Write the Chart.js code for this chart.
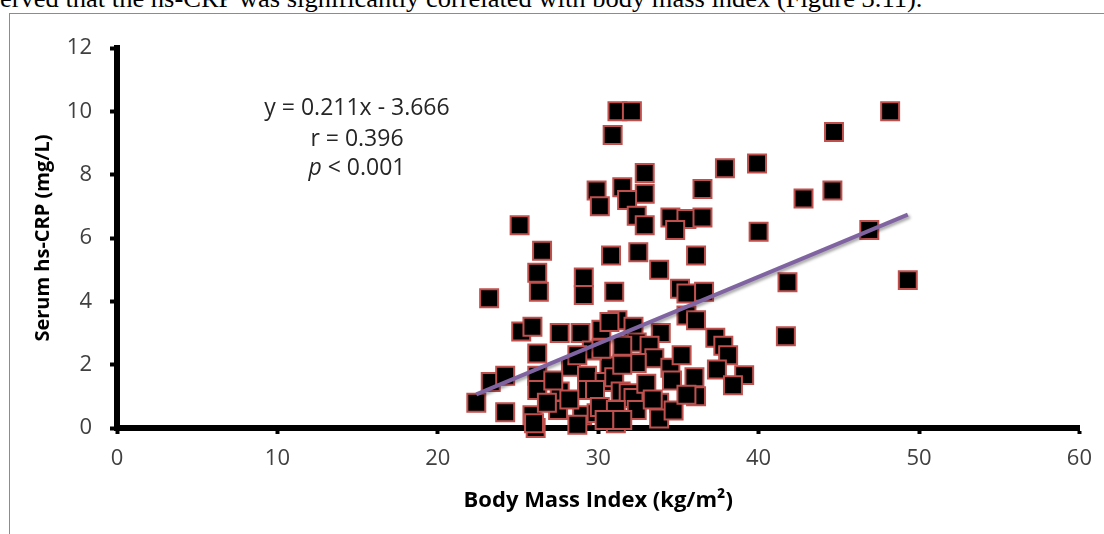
<!DOCTYPE html>
<html>
<head>
<meta charset="utf-8">
<script src="https://cdn.jsdelivr.net/npm/chart.js@4"></script>
<style>
	body { margin: 0; background: #fff; overflow: hidden; width: 1104px; height: 534px; position: relative; }
	#caption { position: absolute; left: 0; top: -14px; font-family: "Liberation Serif", serif; font-size: 25px; line-height: 25px; white-space: nowrap; color: #000; transform: scaleX(1.06); transform-origin: left top; }
	#frame { position: absolute; left: 9px; top: 13px; width: 1200px; height: 600px; border: 1px solid #8c8c8c; }
	#chart { position: absolute; left: 0; top: 0; }
</style>
</head>
<body>
<div id="caption">erved that the hs-CRP was significantly correlated with body mass index (Figure 3.11).</div>
<div id="frame"></div>
<canvas id="chart" width="1104" height="534"></canvas>
<script>
// BMI (kg/m2) and serum hs-CRP (mg/L)
const bmi = [
	31.2, 32.1, 30.9, 48.2, 44.7, 39.9, 37.9, 32.9, 29.9, 31.5,
	32.9, 30.1, 31.8, 36.5, 44.6, 42.8, 25.1, 32.4, 32.9, 34.5,
	35.5, 36.5, 34.8, 40.0, 46.9, 26.5, 30.8, 32.5, 36.1, 26.2,
	33.8, 29.1, 41.8, 49.3, 23.2, 26.3, 29.1, 31.0, 35.1, 35.5,
	36.6, 25.2, 25.9, 27.6, 28.9, 30.2, 31.2, 30.7, 32.2, 33.9,
	35.5, 36.1, 37.3, 37.8, 38.1, 41.7, 26.2, 32.4, 33.2, 33.5,
	32.4, 30.7, 28.3, 34.5, 23.3, 24.2, 26.2, 26.2, 27.6, 29.3,
	29.3, 30.4, 31.0, 29.8, 31.4, 31.9, 32.2, 33.0, 34.6, 36.0,
	37.4, 39.1, 38.4, 36.1, 33.8, 22.4, 24.2, 25.9, 26.1, 26.0,
	27.5, 29.0, 29.9, 30.1, 31.1, 31.1, 32.4, 33.8, 30.4, 34.7,
	27.2, 28.2, 26.8, 31.5, 29.6, 28.7, 31.5, 30.2, 35.2, 35.5,
	33.4, 28.7, 31.5
];
const crp = [
	10.0, 10.0, 9.25, 10.0, 9.35, 8.35, 8.2, 8.05, 7.5, 7.6,
	7.4, 7.0, 7.2, 7.55, 7.5, 7.25, 6.4, 6.7, 6.4, 6.65,
	6.6, 6.65, 6.25, 6.2, 6.25, 5.6, 5.45, 5.55, 5.45, 4.9,
	5.0, 4.75, 4.6, 4.67, 4.1, 4.3, 4.2, 4.3, 4.4, 4.25,
	4.3, 3.05, 3.2, 3.0, 3.0, 3.1, 3.4, 3.35, 3.2, 3.0,
	3.55, 3.4, 2.85, 2.6, 2.3, 2.9, 2.35, 2.7, 2.6, 2.2,
	2.05, 1.95, 1.93, 1.9, 1.45, 1.65, 1.65, 1.2, 1.15, 1.65,
	1.2, 1.45, 1.6, 1.2, 1.15, 1.1, 0.95, 1.4, 1.5, 1.6,
	1.85, 1.67, 1.35, 1.0, 0.8, 0.8, 0.5, 0.4, 0.0, 0.15,
	0.57, 0.4, 0.47, 0.66, 0.57, 0.15, 0.57, 0.3, 0.25, 0.55,
	1.5, 0.9, 0.8, 2.0, 2.45, 2.3, 2.6, 2.5, 2.3, 1.05,
	0.9, 0.1, 0.25
];
// fitted line ends as drawn
const trendX = [22.4, 49.3];
const trendY = [1.06, 6.74];
const xTicks = [0, 10, 20, 30, 40, 50, 60];
const yTicks = [0, 2, 4, 6, 8, 10, 12];
const statLines = ['y = 0.211x - 3.666', 'r = 0.396', 'p < 0.001'];

const tickFont = { family: 'Open Sans', size: 22 };

const statsPlugin = {
	id: 'stats',
	beforeDatasetDraw(chart, args) {
		if (args.index === 0) {
			const ctx = chart.ctx;
			ctx.save();
			ctx.shadowColor = 'rgba(0,0,0,0.35)';
			ctx.shadowOffsetX = 2;
			ctx.shadowOffsetY = 2;
			ctx.shadowBlur = 3;
		}
	},
	afterDatasetDraw(chart, args) {
		if (args.index === 0) chart.ctx.restore();
	},
	afterDraw(chart) {
		const ctx = chart.ctx;
		ctx.save();
		ctx.fillStyle = '#262626';
		ctx.textAlign = 'center';
		ctx.textBaseline = 'alphabetic';
		const cx = 357;
		ctx.font = '23px "Open Sans"';
		ctx.fillText(statLines[0], cx, 115);
		ctx.fillText(statLines[1], cx, 146);
		// italic p
		const rest = statLines[2].slice(1);
		const wRest = ctx.measureText(rest).width;
		ctx.font = 'italic 23px "Open Sans"';
		const wP = ctx.measureText('p').width;
		const start = cx - (wRest + wP) / 2;
		ctx.textAlign = 'left';
		ctx.fillText('p', start, 175);
		ctx.font = '23px "Open Sans"';
		ctx.fillText(rest, start + wP, 175);
		ctx.restore();
	}
};

new Chart(document.getElementById('chart').getContext('2d'), {
	type: 'scatter',
	data: {
		datasets: [
			{
				type: 'line',
				label: 'Linear fit',
				data: trendX.map((x, i) => ({ x: x, y: trendY[i] })),
				borderColor: '#8064a2',
				borderWidth: 4,
				pointRadius: 0,
				fill: false,
				order: 0
			},
			{
				label: 'hs-CRP',
				data: bmi.map((x, i) => ({ x: x, y: crp[i] })),
				pointStyle: 'rect',
				pointRadius: 12.7,
				backgroundColor: '#000000',
				borderColor: '#c0504d',
				borderWidth: 2,
				order: 1,
				clip: false
			}
		]
	},
	options: {
		responsive: false,
		animation: false,
		devicePixelRatio: 1,
		layout: { padding: { left: 0, top: 48, right: 19, bottom: 0 } },
		plugins: {
			legend: { display: false },
			tooltip: { enabled: false }
		},
		scales: {
			x: {
				type: 'linear',
				min: 0,
				max: 60,
				afterBuildTicks: (scale) => { scale.ticks = xTicks.map(v => ({ value: v })); },
				afterFit: (scale) => { scale.height = 106; },
				border: { display: true, color: '#000', width: 6 },
				grid: { display: true, drawOnChartArea: false, drawTicks: true, tickLength: 6, tickWidth: 4, tickColor: '#000' },
				ticks: { color: '#404040', font: tickFont, padding: 12, maxRotation: 0 },
				title: { display: true, text: 'Body Mass Index (kg/m²)', color: '#000', font: { family: 'Open Sans', size: 22, weight: 'bold' }, padding: { top: 0, bottom: 20 } }
			},
			y: {
				type: 'linear',
				min: 0,
				max: 12,
				afterBuildTicks: (scale) => { scale.ticks = yTicks.map(v => ({ value: v })); },
				afterFit: (scale) => { scale.width = 117; },
				border: { display: true, color: '#000', width: 6 },
				grid: { display: true, drawOnChartArea: false, drawTicks: true, tickLength: 7, tickWidth: 4, tickColor: '#000' },
				ticks: { color: '#404040', font: tickFont, padding: 18 },
				title: { display: true, text: 'Serum hs-CRP (mg/L)', color: '#000', font: { family: 'Open Sans', size: 20, weight: 'bold' }, padding: { top: 31, bottom: 0 } }
			}
		}
	},
	plugins: [statsPlugin]
});
</script>
</body>
</html>
